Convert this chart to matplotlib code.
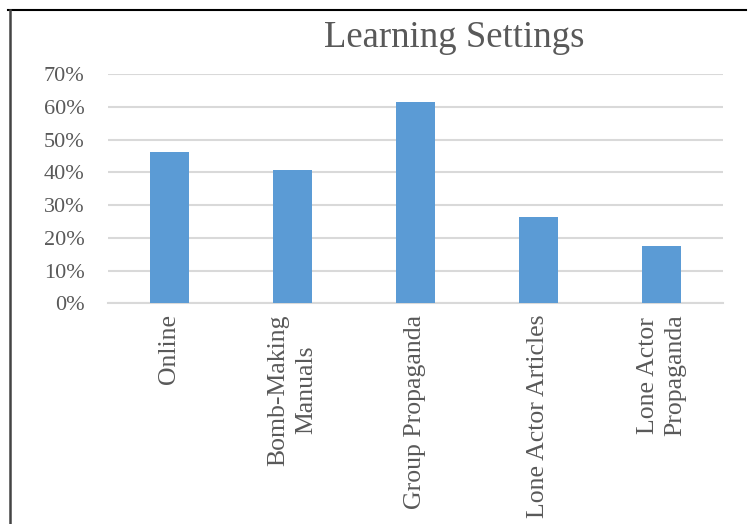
import matplotlib
matplotlib.use("Agg")
import matplotlib.pyplot as plt
from matplotlib.ticker import PercentFormatter
from matplotlib.lines import Line2D

categories = ["Online", "Bomb-Making\nManuals", "Group Propaganda",
              "Lone Actor Articles", "Lone Actor\nPropaganda"]
values = [0.463, 0.407, 0.615, 0.263, 0.175]
yticks = [0, 0.1, 0.2, 0.3, 0.4, 0.5, 0.6, 0.7]

plt.rcParams['font.family'] = ['Liberation Serif', 'DejaVu Serif']
txt = '#595959'

fig = plt.figure(figsize=(7.48, 5.24), dpi=100)
ax = fig.add_axes([108/748, 1 - 303.3/524, (723-108)/748, (303.3-74)/524])

x = range(len(categories))
ax.bar(x, values, width=0.31, color='#5B9BD5', zorder=3)
ax.set_xlim(-0.5, len(categories) - 0.5)
ax.set_ylim(0, 0.7)
ax.set_yticks(yticks)
ax.yaxis.set_major_formatter(PercentFormatter(1.0, decimals=0))
ax.grid(axis='y', color='#D9D9D9', linewidth=1.5, zorder=0)
for s in ['top', 'right', 'left']:
    ax.spines[s].set_visible(False)
ax.spines['bottom'].set_color('#D9D9D9')
ax.spines['bottom'].set_linewidth(1.5)
ax.tick_params(axis='both', length=0, colors=txt)
ax.tick_params(axis='y', pad=17, labelsize=16)
ax.tick_params(axis='x', pad=8, labelsize=18.5)
ax.set_xticks(list(x))
ax.set_xticklabels(categories, rotation=90, ha='center', va='top',
                   multialignment='center', linespacing=1.35)

fig.text(454/748, 1 - 38/524, "Learning Settings", ha='center', va='center',
         fontsize=26.5, color=txt)

# outer frame lines (top and left)
fig.add_artist(Line2D([8/748, 746/748], [1 - 10/524, 1 - 10/524],
                      transform=fig.transFigure, color='black', linewidth=1.5))
fig.add_artist(Line2D([10/748, 10/748], [1 - 10/524, 0],
                      transform=fig.transFigure, color='#444444', linewidth=1.8))

fig.savefig("out.png", dpi=100)
